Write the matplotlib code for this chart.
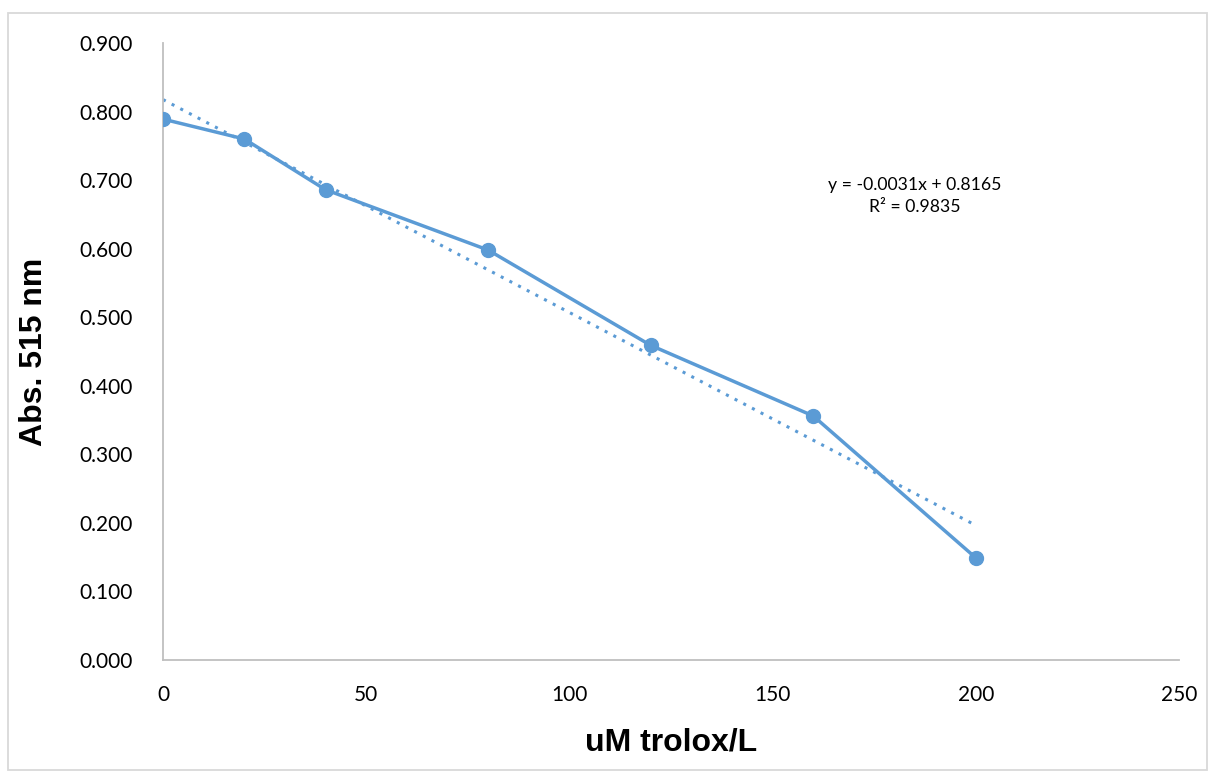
import matplotlib
matplotlib.use("Agg")
import matplotlib.pyplot as plt
from matplotlib.patches import Rectangle
import numpy as np

conc = [0, 20, 40, 80, 120, 160, 200]
absorbance = [0.789, 0.760, 0.686, 0.598, 0.459, 0.356, 0.149]
x_ticks = [0, 50, 100, 150, 200, 250]
y_ticks = [0.0, 0.1, 0.2, 0.3, 0.4, 0.5, 0.6, 0.7, 0.8, 0.9]
eq_text = "y = -0.0031x + 0.8165\nR² = 0.9835"

color = "#5B9BD5"
tick_font = ["Lato", "DejaVu Sans"]
title_font = ["Liberation Sans", "DejaVu Sans"]

fig = plt.figure(figsize=(12.13, 7.76), dpi=100)
ax = fig.add_axes([163/1213, 116/776, (1179-163)/1213, (660-43)/776])

# outer chart border
fig.patches.append(Rectangle((8/1213, 6/776), (1207-8)/1213, (763-6)/776,
                             transform=fig.transFigure, fill=False,
                             edgecolor="#d9d9d9", linewidth=1.3))

# trendline
slope, intercept = np.polyfit(conc, absorbance, 1)
xt = np.array([conc[0], conc[-1]])
ax.plot(xt, slope*xt + intercept, linestyle=(0, (1, 2.2)), color=color,
        linewidth=2.2, zorder=2)

ax.plot(conc, absorbance, color=color, linewidth=2.5, marker="o",
        markersize=10, zorder=3)

ax.set_xlim(0, 250)
ax.set_ylim(0, 0.9)
ax.set_xticks(x_ticks)
ax.set_yticks(y_ticks)
ax.set_xticklabels([str(v) for v in x_ticks])
ax.set_yticklabels([f"{v:.3f}" for v in y_ticks])
for lab in ax.get_xticklabels() + ax.get_yticklabels():
    lab.set_fontfamily(tick_font)
    lab.set_fontsize(15)
ax.tick_params(axis="x", length=0, pad=18)
ax.tick_params(axis="y", length=0, pad=22)

for s in ["top", "right"]:
    ax.spines[s].set_visible(False)
for s in ["left", "bottom"]:
    ax.spines[s].set_color("#bfbfbf")
    ax.spines[s].set_linewidth(1.3)

ax.set_xlabel("uM trolox/L", fontsize=23, fontweight="bold",
              family=title_font, labelpad=16)
ax.set_ylabel("Abs. 515 nm", fontsize=23, fontweight="bold",
              family=title_font, labelpad=22)

ax.text(184.9, 0.677, eq_text, ha="center", va="center", fontsize=12.7,
        family=tick_font, linespacing=1.5)

fig.savefig("out.png", dpi=100)
